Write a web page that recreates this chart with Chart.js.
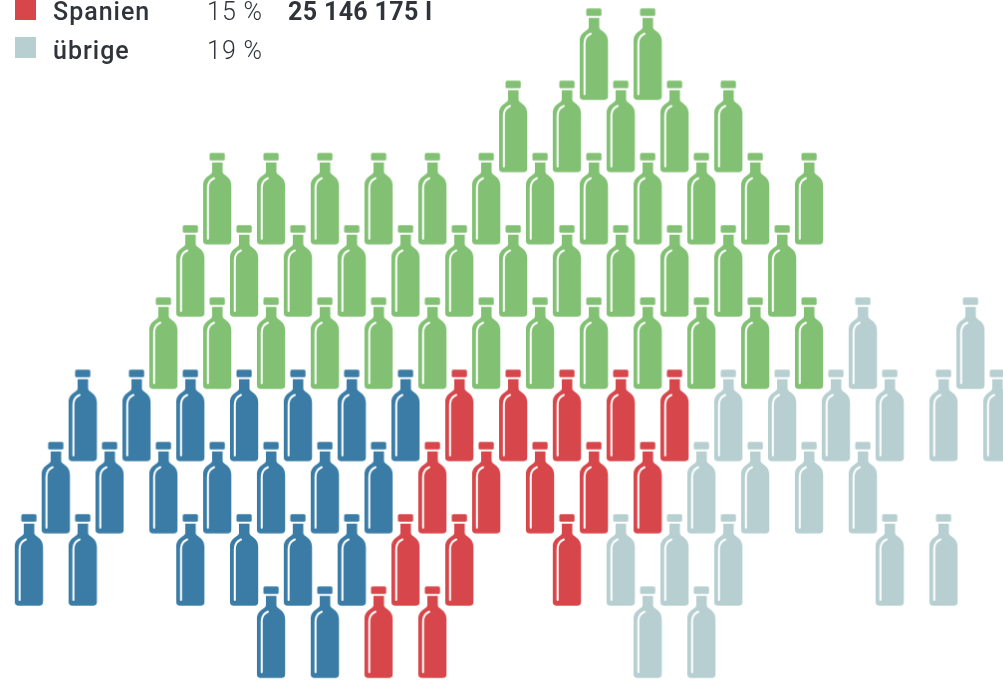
<!DOCTYPE html>
<html lang="de">
<head>
<meta charset="utf-8">
<title>Flaschen</title>
<script src="https://cdn.jsdelivr.net/npm/chart.js@4"></script>
<style>
    html, body { margin: 0; padding: 0; background: #fff; overflow: hidden; }
    #wrap { position: relative; width: 1003px; height: 680px; overflow: hidden; }
    canvas { display: block; }
    .swatch { position: absolute; left: 15px; width: 21px; height: 21px; }
    .label, .pct, .amount { position: absolute; color: #30343a; font-family: Roboto, sans-serif; font-size: 25px; line-height: 30px; white-space: nowrap; }
    .label { left: 53px; font-weight: 500; letter-spacing: 1px; }
    .pct { left: 207px; font-weight: 300; letter-spacing: 1.2px; }
    .amount { left: 288px; font-weight: 700; letter-spacing: 0.35px; }
</style>
</head>
<body>
<div id="wrap">
    <canvas id="chart" width="1003" height="680"></canvas>
    <div id="legend"></div>
</div>
<script>
// one list per row of bottles, bottom row first; numbers are half-column positions
const blueRows = [[10, 12], [1, 3, 7, 9, 11, 13], [2, 4, 6, 8, 10, 12, 14], [3, 5, 7, 9, 11, 13, 15]];
const redRows = [[14, 16], [15, 17, 21], [16, 18, 20, 22, 24], [17, 19, 21, 23, 25]];
const greyRows = [[24, 26], [23, 25, 27, 33, 35], [26, 28, 30, 32], [27, 29, 31, 33, 35, 37], [32, 36]];
const greenRows = [
    [], [], [], [],
    [6, 8, 10, 12, 14, 16, 18, 20, 22, 24, 26, 28, 30],
    [7, 9, 11, 13, 15, 17, 19, 21, 23, 25, 27, 29],
    [8, 10, 12, 14, 16, 18, 20, 22, 24, 26, 28, 30],
    [19, 21, 23, 25, 27],
    [22, 24]
];

const legendNames = ['Spanien', 'übrige'];
const legendShares = ['15\u2009%', '19\u2009%'];
const legendAmounts = ['25 146 175 l', ''];
const legendColors = ['#d7464a', '#b7cfd0'];

function toPoints(rows) {
    const points = [];
    rows.forEach((cols, i) => {
        cols.forEach(col => points.push({ x: col, y: i + 1 }));
    });
    return points;
}

function roundedBox(ctx, x, y, w, h, r) {
    ctx.beginPath();
    ctx.roundRect(x, y, w, h, r);
    ctx.fill();
}

// bottle icon used as the point style
function makeBottle(color) {
    const c = document.createElement('canvas');
    c.width = 30;
    c.height = 94;
    const ctx = c.getContext('2d');
    ctx.fillStyle = color;
    roundedBox(ctx, 7.5, 1.2, 15.2, 7.6, 1.5); // cap
    ctx.beginPath(); // neck, shoulders, body
    ctx.moveTo(10, 10.8);
    ctx.lineTo(20.5, 10.8);
    ctx.lineTo(20.5, 20);
    ctx.bezierCurveTo(20.5, 24, 29.2, 24, 29.2, 34);
    ctx.lineTo(29.2, 89);
    ctx.quadraticCurveTo(29.2, 92.8, 25.5, 92.8);
    ctx.lineTo(4.7, 92.8);
    ctx.quadraticCurveTo(1, 92.8, 1, 89);
    ctx.lineTo(1, 34);
    ctx.bezierCurveTo(1, 24, 10, 24, 10, 20);
    ctx.closePath();
    ctx.fill();
    // highlight down the left side
    ctx.globalCompositeOperation = 'destination-out';
    ctx.strokeStyle = '#000';
    ctx.lineWidth = 2;
    ctx.lineCap = 'round';
    ctx.beginPath();
    ctx.moveTo(5.8, 87);
    ctx.lineTo(5.8, 36);
    ctx.quadraticCurveTo(5.8, 29, 12, 26.5);
    ctx.stroke();
    return c;
}

function bottleSet(label, rows, color) {
    return {
        label: label,
        data: toPoints(rows),
        pointStyle: makeBottle(color),
        pointRadius: 15
    };
}

const legend = document.getElementById('legend');
legendNames.forEach((name, i) => {
    const top = i * 39 - 3;
    legend.insertAdjacentHTML('beforeend',
        `<div class="swatch" style="top:${i * 38 - 1}px;background:${legendColors[i]}"></div>` +
        `<div class="label" style="top:${top}px">${name}</div>` +
        `<div class="pct" style="top:${top}px">${legendShares[i]}</div>` +
        `<div class="amount" style="top:${top}px">${legendAmounts[i]}</div>`);
});

new Chart(document.getElementById('chart').getContext('2d'), {
    type: 'scatter',
    data: {
        datasets: [
            bottleSet('Deutschland', blueRows, '#3a7ca5'),
            bottleSet('Spanien', redRows, legendColors[0]),
            bottleSet('übrige', greyRows, legendColors[1]),
            bottleSet('Italien', greenRows, '#82c173')
        ]
    },
    options: {
        responsive: false,
        animation: false,
        layout: { padding: 0, autoPadding: false },
        plugins: { legend: { display: false }, tooltip: { enabled: false } },
        scales: {
            x: { type: 'linear', display: false, min: -0.07, max: 37.215 },
            y: { type: 'linear', display: false, min: 0.338, max: 9.75 }
        }
    }
});
</script>
</body>
</html>
